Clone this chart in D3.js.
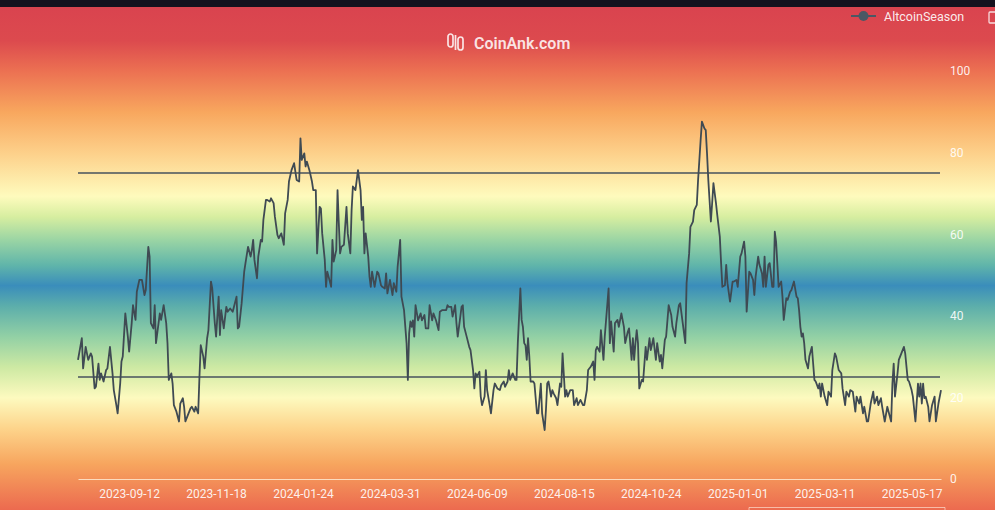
<!DOCTYPE html>
<html>
<head>
<meta charset="utf-8">
<script src="https://cdn.jsdelivr.net/npm/d3@7/dist/d3.min.js"></script>
<style>
  body { margin: 0; overflow: hidden; background: #15121e; }
  svg { display: block; font-family: Roboto, "Noto Sans", sans-serif; }
</style>
</head>
<body>
<script>
var W = 995, H = 510;

// category positions (day index on the category axis) and AltcoinSeason values
var dayIdx = [0,3,4,6,8,10,11,13,14,16,17,18,20,22,23,25,27,28,30,31,33,34,35,37,39,40,42,43,45,46,48,50,52,53,55,56,57,59,60,61,63,64,65,67,69,70,71,73,74,75,77,79,80,82,83,84,86,88,89,91,92,94,95,96,98,99,101,102,104,105,107,108,110,111,112,114,116,117,119,121,122,124,125,126,128,130,131,133,135,136,137,138,140,141,143,144,145,147,148,150,151,153,154,156,157,159,161,162,164,165,167,
  169,171,173,174,175,177,178,179,181,183,184,186,187,189,190,191,193,194,195,196,198,199,200,202,203,204,205,206,208,210,211,213,214,215,217,219,221,222,223,224,225,227,228,229,230,232,234,235,237,238,240,241,242,244,246,247,249,250,252,253,255,257,258,259,260,261,262,263,264,266,268,269,271,272,274,275,277,278,280,282,283,285,288,289,290,292,293,295,296,297,298,300,301,302,304,306,307,309,310,311,312,314,315,316,318,319,320,322,323,325,326,328,330,331,333,334,336,337,338,340,342,
  343,344,346,347,348,349,350,351,352,353,354,356,357,359,360,362,363,365,366,367,368,370,371,372,374,375,377,378,379,381,382,383,385,387,388,390,391,393,395,396,398,399,401,403,404,405,406,408,409,411,412,415,416,417,419,420,422,423,425,427,428,430,431,433,434,435,436,437,438,439,441,442,444,445,447,448,450,452,453,455,456,457,459,460,462,464,465,467,468,470,471,473,475,476,478,479,481,482,484,485,486,487,488,490,491,492,493,495,496,497,499,500,502,503,504,506,507,508,510,512,
  513,515,516,518,519,521,522,523,525,526,528,529,530,532,533,535,536,537,538,540,541,543,544,545,546,548,550,551,552,554,555,557,558,560,562,563,564,565,566,567,568,569,571,572,574,575,576,577,579,580,581,582,584,586,587,589,590,592,593,595,597,598,600,601,603,604,606,608,609,611,612,614,615,617,618,620,622,623,625,626,628,629,631,633,634,636,637,638,639,641,642,644,646,647,649,650,652,653,655,657,658,659,660,661,662,663,665,666,668,670,671,673,675];

var altValues = [29.2,34.5,27.1,32.4,29.2,30.8,30,22.2,22.6,28.3,24.3,25.9,23.9,26.7,27.1,32.4,25.9,21.8,18.1,16.1,23.4,28.8,30,40.6,34.9,31.2,38.2,42.6,39,45.9,48.8,48.8,45.1,46.3,56.9,54.5,38.2,36.9,42.6,33.3,38.2,40.6,39,42.6,38.2,33.3,24.3,25.9,23.4,18.1,16.5,14.1,18.5,19.8,17.7,14.1,15.7,17.3,17.7,16.5,17.7,16.1,25.1,32.8,30,27.1,34.5,36.5,48.4,46.7,38.2,34.9,44.7,35.3,41.4,36.9,42.2,41,41.8,41,42.2,44.7,36.9,37.3,43.1,50.8,52.9,56.9,54.5,56.1,58.6,53.7,49.2,54.5,58.6,58.2,63.5,68.4,68.4,68,68.8,67.6,64.3,59.8,59,60.2,57.4,65.1,68.4,72.9,75.7,
  77.4,73.3,72.9,83.5,78.2,79.8,76.6,77.8,75.7,72.9,70.8,70.8,55.3,66.7,66.3,60.2,53.7,47.1,50.8,49.6,47.1,58.6,53.3,56.1,70.8,62.7,55.3,56.9,57.4,66.7,60.2,55.3,65.9,71.7,70.8,75.7,70.8,63.5,66.7,55.3,60.2,54.5,49.6,47.1,50.8,47.1,50.8,50.4,47.5,47.1,46.7,50.4,45.5,48.8,45.1,48,45.9,52,58.6,44.7,41.4,33.3,24.3,35.7,38.6,37.3,38.9,34.9,42.6,38.9,40.6,38.9,40.2,36.9,36.9,42.6,38.9,40.6,38.9,36.5,41,41.4,41.4,42.6,42.2,42.2,39.8,42.6,38.2,34.9,37.3,42.2,42.6,37.3,34.9,32.4,31.6,26.7,22.2,25.9,25.1,26.3,20.2,18.1,20.2,26.7,21.8,18.1,16.1,21.8,23.4,22.2,21.8,23,23.9,22.6,23.9,26.7,24.3,25.9,24.3,
  24.3,33.3,46.7,39,37.3,33.3,32.8,29.2,34.5,30,23.9,23.9,23.4,16.1,16.1,23.4,16.1,12,16.9,23.4,23.9,20.2,21.8,21,19.8,18.1,23.4,22.6,30.8,20.2,21.8,20.2,21.8,21.8,18.1,19.8,18.1,19.4,18.1,18.1,21.8,26.7,27.5,28.8,24.3,31.6,32.4,31.2,36.5,29.2,34.9,46.7,33.3,38.6,31.2,38.2,39,37.3,40.6,37.3,33.3,36.1,36.9,29.2,34.5,29.2,33.3,36.5,33.3,22.2,24.3,23.9,32.4,29.2,34.5,31.6,34.5,29.2,33.3,28.8,30.4,27.1,34.1,34.9,42.6,40.2,37.3,34.9,38.2,42.6,43.1,38.2,33.3,48,55.3,61.8,63.1,65.9,67.2,73.3,78.2,83.1,87.6,85.9,85.5,79.8,73.3,63.1,67.6,72.5,67.6,64.7,59.4,52.9,47.1,47.5,52.5,48,43.5,48.4,
  48.4,48.8,47.1,54.5,55.3,58.2,54.5,41,50.8,50.4,48.8,45.1,49.6,54.5,52.5,50.4,47.1,54.5,47.1,52.5,52.9,47.1,47.1,60.6,58.2,47.1,48.4,44.7,39,44.3,43.9,45.9,46.3,48.4,44.7,44.3,41.4,37.3,34.9,35.7,33.3,29.2,27.1,30,32.4,28.3,24.3,23.9,22.2,23.4,20.2,23.4,20.2,18.1,21.4,20.2,26.7,30.8,30,26.7,25.9,22.2,18.1,21.4,20.2,21.8,21.4,16.5,20.2,18.5,20.2,16.1,17.7,14.1,14.1,18.5,21.4,18.5,20.2,18.1,19.8,17.7,14.1,17.7,16.5,14.1,23.4,28.3,20.2,25.9,29.2,30.8,32.4,30.8,24.3,23.9,21.8,20.2,14.1,23.4,20.2,23.4,18.5,23.4,19.8,20.2,17.7,14.1,18.1,20.2,14.1,18.5,21.8];

var nDays = 676;
var tickLabels = ['2023-09-12','2023-11-18','2024-01-24','2024-03-31','2024-06-09','2024-08-15','2024-10-24','2025-01-01','2025-03-11','2025-05-17'];
var tickIdx = [40,108,176,244,312,380,448,516,584,652];
var yTicks = [0,20,40,60,80,100];
var bandLevels = [25,75];

var svg = d3.select('body').append('svg').attr('width', W).attr('height', H);

// background gradient, spectral-like, over the whole picture
var bgStops = [
  [0.000,'#d9424f'],[0.080,'#dc4a4e'],[0.140,'#ec7152'],[0.220,'#f8a75e'],
  [0.300,'#fdd08a'],[0.385,'#fefbbd'],[0.425,'#d7eea0'],[0.470,'#9bd5a4'],
  [0.520,'#60b5aa'],[0.560,'#3a8dbb'],[0.600,'#5caeab'],[0.660,'#92d0a5'],
  [0.720,'#cde9a3'],[0.780,'#fdfabf'],[0.840,'#fdd48b'],[0.910,'#f7a55e'],
  [1.000,'#ec6a4f']
];
var grad = svg.append('defs').append('linearGradient')
    .attr('id', 'bg').attr('x1', 0).attr('y1', 0).attr('x2', 0).attr('y2', 1);
grad.selectAll('stop').data(bgStops).enter().append('stop')
    .attr('offset', function(d) {return d[0];})
    .attr('stop-color', function(d) {return d[1];});

svg.append('rect').attr('width', W).attr('height', H).attr('fill', 'url(#bg)');
svg.append('rect').attr('width', W).attr('height', 7).attr('fill', '#15121e');

var x = d3.scaleLinear().domain([0, nDays - 1]).range([78, 941]);
var y = d3.scaleLinear().domain([0, 100]).range([479, 71]);

// logo watermark
var logo = svg.append('g').attr('transform', 'translate(447,33)')
    .style('fill', 'none').style('stroke', 'rgba(255,255,255,0.85)').style('stroke-width', 1.7);
logo.append('rect').attr('x', 1).attr('y', 1).attr('width', 5).attr('height', 13).attr('rx', 2.5);
logo.append('line').attr('x1', 8.5).attr('y1', 2).attr('x2', 8.5).attr('y2', 17);
logo.append('rect').attr('x', 11).attr('y', 4).attr('width', 5).attr('height', 13).attr('rx', 2.5);
svg.append('text').attr('x', 474).attr('y', 49)
    .style('font-size', '16px').style('font-weight', 600)
    .style('fill', 'rgba(255,255,255,0.85)').text('CoinAnk.com');

// y axis on the right
var yAxis = svg.append('g').attr('transform', 'translate(948,0)')
    .call(d3.axisRight(y).tickValues(yTicks).tickSize(0).tickPadding(2));
yAxis.select('.domain').remove();
yAxis.selectAll('text').style('font-size', '12px').style('font-family', 'Roboto')
    .style('fill', 'rgba(255,255,255,0.9)');

// x axis
var xAxis = svg.append('g').attr('transform', 'translate(0,479)')
    .call(d3.axisBottom(x).tickValues(tickIdx)
        .tickFormat(function(d, i) {return tickLabels[i];})
        .tickSize(0).tickSizeOuter(0).tickPadding(10));
xAxis.select('.domain').style('stroke', 'rgba(255,245,225,0.75)').style('stroke-width', 1);
xAxis.selectAll('text').style('font-size', '12px').style('font-family', 'Roboto')
    .style('fill', 'rgba(255,255,255,0.9)');

// 25 / 75 reference lines
svg.append('g').selectAll('line').data(bandLevels).enter().append('line')
    .attr('x1', 78).attr('x2', 940)
    .attr('y1', function(d) {return y(d);})
    .attr('y2', function(d) {return y(d);})
    .style('stroke', '#46525c').style('stroke-width', 1.5);

// series
var pts = dayIdx.map(function(d, i) {return [d, altValues[i]];});
var line = d3.line()
    .x(function(d) {return x(d[0]);})
    .y(function(d) {return y(d[1]);});
svg.append('path').datum(pts).attr('d', line)
    .style('fill', 'none').style('stroke', '#3f4a53')
    .style('stroke-width', 1.8).style('stroke-linejoin', 'round');

// legend
var legend = svg.append('g').attr('transform', 'translate(851,16)');
legend.append('line').attr('x1', 0).attr('x2', 25).attr('y1', 0).attr('y2', 0)
    .style('stroke', '#4a5864').style('stroke-width', 2);
legend.append('circle').attr('cx', 12.5).attr('cy', 0).attr('r', 5).style('fill', '#4a5864');
legend.append('text').attr('x', 33).attr('y', 4.5)
    .style('font-size', '12.5px').style('fill', 'rgba(255,255,255,0.9)').text('AltcoinSeason');

// clipped toolbox icon at right edge
svg.append('rect').attr('x', 989).attr('y', 12).attr('width', 8).attr('height', 11).attr('rx', 1)
    .style('fill', 'none').style('stroke', 'rgba(255,255,255,0.8)').style('stroke-width', 1.3);

// top edge of the zoom slider below the chart
svg.append('path').attr('d', 'M749,510V507.5H945V510')
    .style('fill', 'none').style('stroke', 'rgba(255,240,225,0.6)').style('stroke-width', 1);
</script>
</body>
</html>
